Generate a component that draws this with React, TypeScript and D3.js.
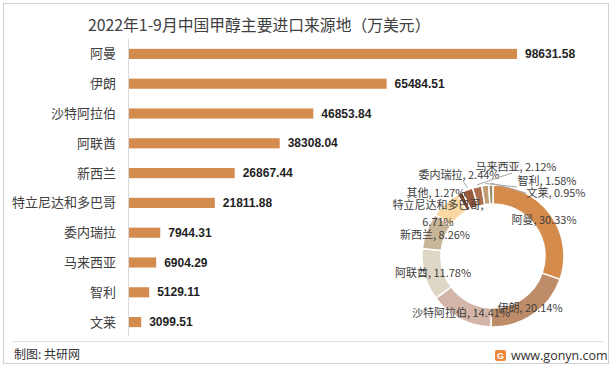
import * as d3 from "d3"

const categories = ["阿曼", "伊朗", "沙特阿拉伯", "阿联酋", "新西兰", "特立尼达和多巴哥", "委内瑞拉", "马来西亚", "智利", "文莱"]
const values = [98631.58, 65484.51, 46853.84, 38308.04, 26867.44, 21811.88, 7944.31, 6904.29, 5129.11, 3099.51]

const pieNames = ["阿曼", "伊朗", "沙特阿拉伯", "阿联酋", "新西兰", "特立尼达和多巴哥", "其他", "委内瑞拉", "马来西亚", "智利", "文莱"]
const pieShares = [30.33, 20.14, 14.41, 11.78, 8.26, 6.71, 1.27, 2.44, 2.12, 1.58, 0.95]
const pieColors = ["#D58B4C", "#BE8C68", "#D3B6A9", "#DED7C6", "#C9B698", "#F9D9A1", "#7A4826", "#9A5A3A", "#AC6E50", "#BE9C70", "#9C8E70"]

// where Excel dropped each slice label (centre x, baseline y), plus leader flag
const labelSpots: Record<string, { x: number; y: number; lead?: boolean }> = {
  "阿曼": { x: 544, y: 224 },
  "伊朗": { x: 530, y: 312 },
  "沙特阿拉伯": { x: 461, y: 317 },
  "阿联酋": { x: 433, y: 277 },
  "新西兰": { x: 435, y: 239 },
  "特立尼达和多巴哥": { x: 438, y: 209 },
  "其他": { x: 436, y: 197 },
  "委内瑞拉": { x: 459, y: 179, lead: true },
  "马来西亚": { x: 516, y: 171, lead: true },
  "智利": { x: 547, y: 185, lead: true },
  "文莱": { x: 556, y: 197, lead: true },
}

const W = 613
const H = 370
const font = "'Microsoft YaHei', 'Noto Sans CJK SC', sans-serif"

export default function App() {
  const y = d3.scaleBand<string>().domain(categories).range([39, 337]).paddingInner(0.66).paddingOuter(0.33)
  const x = d3.scaleLinear().domain([0, d3.max(values) as number]).range([129, 517])

  const cx = 493
  const cy = 256
  const pie = d3
    .pie<number>()
    .sort(null)
    .value((d) => d)
  const arcs = pie(pieShares)
  const arc = d3.arc<d3.PieArcDatum<number>>().innerRadius(52).outerRadius(71)
  const edge = d3.arc<d3.PieArcDatum<number>>().innerRadius(71).outerRadius(71)

  return (
    <div style={{ position: "fixed", left: 0, top: 0 }}>
      <svg width={W} height={H} style={{ display: "block", background: "#fff", fontFamily: font }}>
        <rect x={3.5} y={3.5} width={605} height={360} fill="#fff" stroke="#d0d0d0" />

        <text x={88} y={31} fontSize={15.8} fill="#404040">
          2022年1-9月中国甲醇主要进口来源地（万美元）
        </text>

        <line x1={128.5} x2={128.5} y1={39} y2={336} stroke="#d9d9d9" />

        {categories.map((c, i) => {
          const by = y(c) as number
          const bh = y.bandwidth()
          return (
            <g key={c}>
              <text x={116} y={by + bh / 2 + 4.5} textAnchor="end" fontSize={13} fill="#404040">
                {c}
              </text>
              <rect x={x(0)} y={by} width={x(values[i]) - x(0)} height={bh} fill="#D48B4E" />
              <text
                x={x(values[i]) + 8}
                y={by + bh / 2 + 4}
                fontSize={12}
                fontWeight="bold"
                fill="#1f1f1f"
                fontFamily="Arial, 'Liberation Sans', sans-serif"
              >
                {values[i].toFixed(2)}
              </text>
            </g>
          )
        })}

        <g transform={`translate(${cx},${cy})`}>
          {arcs.map((a, i) => (
            <path key={pieNames[i]} d={arc(a) as string} fill={pieColors[i]} stroke="#fff" strokeWidth={1.5} />
          ))}
        </g>

        {arcs.map((a, i) => {
          const name = pieNames[i]
          const spot = labelSpots[name]
          const pct = pieShares[i].toFixed(2) + "%"
          const [ex, ey] = edge.centroid(a)
          const lead = spot.lead ? (
            <line
              x1={cx + ex}
              y1={cy + ey - 2}
              x2={name === "文莱" ? spot.x - 30 : name === "智利" ? spot.x - 30 : spot.x + (cx + ex > spot.x ? 4 : -4)}
              y2={name === "文莱" ? spot.y - 4 : spot.y + 2}
              stroke="#a6a6a6"
              strokeWidth={1}
            />
          ) : null
          if (name === "特立尼达和多巴哥") {
            return (
              <g key={name}>
                <text x={spot.x} y={spot.y} textAnchor="middle" fontSize={11} fill="#404040">
                  {name},
                </text>
                <text x={spot.x} y={spot.y + 17} textAnchor="middle" fontSize={11} fill="#404040">
                  {pct}
                </text>
              </g>
            )
          }
          return (
            <g key={name}>
              {lead}
              <text x={spot.x} y={spot.y} textAnchor="middle" fontSize={11} fill="#404040">
                {name}, {pct}
              </text>
            </g>
          )
        })}

        <line x1={13} x2={603} y1={341.5} y2={341.5} stroke="#e0e0e0" />
        <text x={14} y={359} fontSize={12} fill="#333">
          制图: 共研网
        </text>
        <rect x={495} y={350} width={11} height={11} rx={2} fill="#F0883A" />
        <text x={500.5} y={359} textAnchor="middle" fontSize={9} fontWeight="bold" fill="#fff" fontFamily="Arial, sans-serif">
          G
        </text>
        <text x={511} y={360} fontSize={12.5} fill="#333" fontFamily="'Open Sans', 'DejaVu Sans', sans-serif">
          www.gonyn.com
        </text>
      </svg>
    </div>
  )
}
